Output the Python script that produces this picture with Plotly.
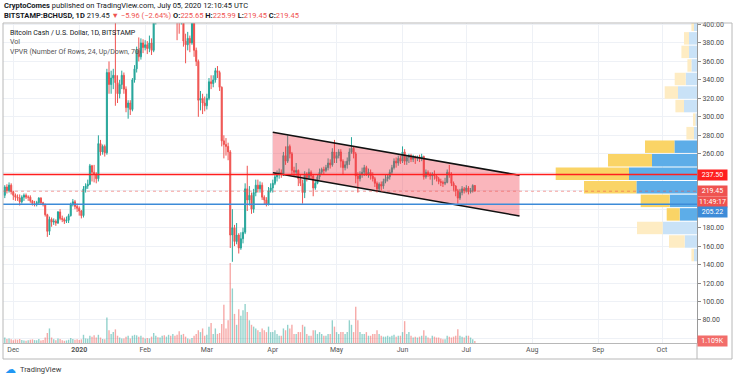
import pandas as pd
import plotly.graph_objects as go

# ---------------- data ----------------
first_open = 215.0

close_nov = [224, 220, 226, 219]
high_nov = [226, 227, 229, 228]
low_nov = [212, 217, 218, 216]
vol_nov = [3.0, 2.2, 2.5, 2.0]

close_dec = [215, 213, 212, 208, 213, 215, 213, 213, 209, 206, 206, 207, 212, 207, 205, 194, 176, 189, 186, 187, 185, 197, 190, 189, 187, 188, 193, 205, 208, 203, 201]
high_dec = [220, 217, 216, 216, 215, 217, 217, 215, 215, 210, 209, 209, 213, 213, 208, 206, 195, 192, 191, 190, 189, 198, 200, 193, 191, 192, 195, 207, 211, 210, 206]
low_dec = [210, 209, 209, 204, 206, 209, 211, 209, 207, 204, 203, 203, 205, 205, 203, 192, 170, 172, 181, 183, 182, 184, 188, 186, 184, 185, 185, 192, 203, 200, 197]
vol_dec = [1.5, 2.0, 1.8, 2.2, 1.6, 1.4, 1.2, 1.5, 1.8, 2.0, 1.6, 1.5, 2.2, 1.4, 1.6, 3.0, 5.5, 8.0, 3.0, 2.0, 1.5, 2.5, 2.2, 1.5, 1.2, 1.4, 1.8, 2.8, 2.2, 1.8, 2.0]

close_jan = [198, 193, 222, 225, 227, 247, 240, 238, 233, 271, 262, 268, 261, 348, 335, 342, 345, 337, 325, 335, 345, 330, 310, 315, 308, 340, 352, 372, 365, 380, 375]
high_jan = [203, 199, 225, 228, 232, 249, 248, 248, 240, 280, 275, 270, 270, 352, 360, 350, 352, 420, 345, 340, 350, 348, 333, 318, 318, 342, 356, 376, 386, 385, 384]
low_jan = [193, 190, 191, 218, 222, 226, 230, 229, 228, 230, 258, 259, 257, 259, 325, 325, 330, 312, 315, 320, 330, 325, 305, 298, 302, 306, 337, 348, 360, 362, 369]
vol_jan = [1.6, 2.0, 4.5, 2.5, 2.4, 4.0, 3.5, 4.2, 3.0, 4.5, 3.0, 2.2, 2.0, 14.0, 7.0, 5.0, 6.0, 7.5, 4.0, 3.0, 2.5, 2.5, 3.5, 4.0, 2.5, 4.0, 4.5, 4.2, 3.5, 4.0, 3.0]

close_feb = [378, 374, 380, 372, 405, 415, 412, 420, 440, 420, 445, 470, 445, 475, 440, 415, 410, 430, 382, 378, 385, 380, 405, 372, 360, 318, 320, 315, 312]
high_feb = [383, 382, 388, 385, 410, 425, 420, 430, 450, 445, 450, 480, 475, 495, 478, 445, 425, 440, 432, 390, 392, 388, 412, 410, 375, 362, 328, 325, 322]
low_feb = [372, 368, 370, 367, 370, 400, 402, 405, 415, 408, 415, 440, 425, 440, 425, 383, 390, 400, 376, 358, 372, 370, 378, 365, 355, 300, 307, 303, 306]
vol_feb = [2.5, 2.8, 2.5, 3.5, 5.5, 4.0, 3.2, 3.0, 4.0, 4.2, 3.5, 4.5, 4.0, 5.0, 4.0, 4.5, 6.5, 4.5, 5.0, 3.5, 2.5, 2.0, 2.8, 4.0, 5.0, 7.0, 6.0, 8.0, 4.0]

close_mar = [320, 338, 336, 340, 350, 348, 332, 274, 270, 268, 262, 172, 180, 165, 172, 158, 168, 175, 222, 210, 215, 200, 218, 226, 222, 226, 213, 210, 205, 220, 223]
high_mar = [325, 342, 345, 345, 353, 355, 350, 333, 280, 277, 272, 264, 200, 183, 185, 174, 175, 180, 228, 247, 225, 218, 222, 232, 232, 230, 229, 215, 213, 224, 228]
low_mar = [308, 318, 330, 332, 337, 342, 328, 268, 255, 258, 253, 158, 143, 160, 162, 152, 156, 163, 173, 198, 204, 195, 196, 214, 218, 218, 210, 205, 203, 204, 218]
vol_mar = [4.5, 9.0, 11.0, 5.0, 8.0, 5.0, 5.5, 10.5, 21.0, 8.0, 12.5, 44.0, 30.0, 16.0, 10.0, 18.5, 15.0, 18.0, 21.5, 17.0, 12.5, 10.0, 9.0, 8.0, 7.0, 6.0, 8.0, 7.0, 6.0, 9.0, 6.0]

close_apr = [228, 235, 237, 240, 238, 258, 252, 268, 260, 242, 240, 242, 233, 228, 218, 238, 234, 240, 236, 223, 228, 235, 240, 243, 242, 245, 250, 248, 262, 255]
high_apr = [232, 240, 242, 244, 243, 262, 268, 280, 270, 262, 246, 250, 243, 237, 232, 241, 240, 244, 242, 238, 232, 237, 244, 245, 246, 248, 255, 254, 266, 275]
low_apr = [218, 226, 230, 233, 234, 236, 248, 250, 255, 238, 236, 236, 225, 225, 206, 212, 230, 232, 232, 214, 221, 227, 232, 237, 238, 240, 242, 244, 246, 250]
vol_apr = [6, 7, 5, 4, 4, 8, 7, 10, 8, 10, 5, 5, 6, 6, 10, 9, 5, 4, 4, 7, 7, 5, 6, 5, 4, 4, 5, 5, 12.5, 9]

close_may = [258, 262, 252, 245, 248, 252, 262, 266, 260, 236, 233, 238, 240, 245, 238, 240, 236, 233, 228, 222, 227, 225, 230, 233, 235, 240, 245, 252, 250, 255, 252]
high_may = [262, 265, 265, 254, 252, 256, 266, 278, 268, 262, 240, 241, 245, 248, 247, 244, 243, 240, 235, 230, 229, 230, 233, 238, 238, 243, 248, 255, 256, 258, 258]
low_may = [250, 255, 245, 237, 242, 244, 248, 260, 255, 228, 218, 230, 234, 236, 236, 234, 232, 230, 224, 218, 220, 220, 222, 228, 230, 232, 237, 243, 245, 247, 249]
vol_may = [6, 5, 6, 6, 5, 6, 12.5, 10, 6, 20, 12.5, 6, 5, 5, 6, 4, 4, 5, 5, 7, 5, 4, 3.5, 3.5, 4, 3.5, 4, 4.5, 3.5, 4, 4]

close_jun = [262, 252, 256, 258, 254, 256, 255, 256, 255, 257, 235, 240, 238, 236, 238, 236, 233, 230, 229, 228, 229, 240, 237, 228, 225, 220, 212, 218, 222, 220]
high_jun = [268, 265, 258, 260, 260, 259, 258, 258, 259, 260, 258, 243, 242, 240, 240, 242, 238, 235, 233, 231, 234, 243, 248, 240, 230, 226, 222, 222, 225, 224]
low_jun = [250, 248, 248, 250, 251, 251, 249, 252, 251, 252, 232, 233, 235, 232, 226, 232, 230, 227, 225, 224, 226, 228, 234, 225, 220, 214, 206, 210, 215, 217]
vol_jun = [6, 12, 5, 6, 4, 3, 3.5, 3, 3.5, 4, 7, 4, 3, 2.5, 4, 3.5, 3, 3, 2.5, 2, 2, 4, 3.5, 3, 3.5, 4, 7.5, 4, 3.5, 3]

close_jul = [223, 219, 220, 225.65, 219.45]
high_jul = [226, 225, 223, 227, 225.99]
low_jul = [218, 216, 217, 218, 219.45]
vol_jul = [4, 4, 3, 2, 1.109]

# Volume profile (24 rows, up / down volume per row, arbitrary units)
vp_low = 143.0
vp_high = 495.0
vp_up = [3, 12.3, 34.3, 17.3, 27.3, 60.6, 68, 45, 22.6, 3, 1.6, 13, 19, 11.3, 5.6, 8, 8, 3, 6, 9, 7, 10, 6, 3]
vp_down = [2.6, 15.7, 25.7, 13, 29, 52.4, 73.3, 44, 29.4, 7.6, 2.4, 8.6, 13.3, 11, 4, 7.6, 5, 2.6, 5, 8, 9, 8, 5, 2]
vp_value_area_rows = [3, 4, 5, 6, 7, 8]

# Drawn channel (date, price anchors)
channel_dates = ["2020-04-01", "2020-07-26"]
channel_upper = [283.3, 236.7]
channel_lower = [239.5, 192.6]

# Horizontal levels
level_resist = 237.50
level_last = 219.45
level_support = 205.22

month_ticks = ["2019-12-01", "2020-01-01", "2020-02-01", "2020-03-01", "2020-04-01", "2020-05-01",
               "2020-06-01", "2020-07-01", "2020-08-01", "2020-09-01", "2020-10-01"]
month_labels = ["Dec", "<b>2020</b>", "Feb", "Mar", "Apr", "May", "Jun", "Jul", "Aug", "Sep", "Oct"]
price_ticks = list(range(60, 401, 20))

# ---------------- build ----------------
dates = pd.date_range("2019-11-27", "2020-07-05", freq="D")
closes = close_nov + close_dec + close_jan + close_feb + close_mar + close_apr + close_may + close_jun + close_jul
highs = high_nov + high_dec + high_jan + high_feb + high_mar + high_apr + high_may + high_jun + high_jul
lows = low_nov + low_dec + low_jan + low_feb + low_mar + low_apr + low_may + low_jun + low_jul
vols = vol_nov + vol_dec + vol_jan + vol_feb + vol_mar + vol_apr + vol_may + vol_jun + vol_jul
opens = [first_open] + closes[:-1]

UP = "#26a69a"
DN = "#ef5350"
vol_colors = ["rgba(38,166,154,0.5)" if c >= o else "rgba(239,83,80,0.5)" for o, c in zip(opens, closes)]

FONT = "Roboto, Arial, sans-serif"
W, H = 736, 379
PL, PR, PT, PB = 3, 697, 23, 343


def px_x(px):
    return (px - PL) / (PR - PL)


def px_y(py):
    return (PB - py) / (PB - PT)


fig = go.Figure()

# volume (base axis, drawn first = behind)
fig.add_trace(go.Bar(x=dates, y=vols, xaxis="x", yaxis="y", marker=dict(color=vol_colors, line=dict(width=0)),
                     width=0.65 * 86400000, hoverinfo="skip"))

# candles
fig.add_trace(go.Candlestick(x=dates, open=opens, high=highs, low=lows, close=closes, xaxis="x", yaxis="y2",
                             increasing=dict(line=dict(color=UP, width=1), fillcolor=UP),
                             decreasing=dict(line=dict(color=DN, width=1), fillcolor=DN),
                             whiskerwidth=0, hoverinfo="skip"))

# channel fill
fig.add_trace(go.Scatter(x=[channel_dates[0], channel_dates[1], channel_dates[1], channel_dates[0]],
                         y=[channel_upper[0], channel_upper[1], channel_lower[1], channel_lower[0]],
                         xaxis="x", yaxis="y2", fill="toself", fillcolor="rgba(242,54,69,0.36)",
                         mode="lines", line=dict(width=0), hoverinfo="skip"))
fig.add_trace(go.Scatter(x=channel_dates, y=channel_upper, xaxis="x", yaxis="y2", mode="lines",
                         line=dict(color="#111111", width=1.5), hoverinfo="skip"))
fig.add_trace(go.Scatter(x=channel_dates, y=channel_lower, xaxis="x", yaxis="y2", mode="lines",
                         line=dict(color="#111111", width=1.5), hoverinfo="skip"))

# volume profile
step = (vp_high - vp_low) / len(vp_up)
centers = [vp_low + (k + 0.5) * step for k in range(len(vp_up))]
up_cols = ["#5dade8" if k in vp_value_area_rows else "#c9e2f7" for k in range(len(vp_up))]
dn_cols = ["#fad466" if k in vp_value_area_rows else "#feecc3" for k in range(len(vp_up))]
fig.add_trace(go.Bar(y=centers, x=vp_up, orientation="h", xaxis="x2", yaxis="y3", width=step * 0.92,
                     marker=dict(color=up_cols, line=dict(width=0)), hoverinfo="skip"))
fig.add_trace(go.Bar(y=centers, x=vp_down, base=vp_up, orientation="h", xaxis="x2", yaxis="y3", width=step * 0.92,
                     marker=dict(color=dn_cols, line=dict(width=0)), hoverinfo="skip"))

y_lo = 400 - (PB - 24.5) / 0.9234
y_hi = 400 + (24.5 - PT) / 0.9234
vol_top = (PB - PT) * 0.55

price_text = ["" if (v in (60, 200, 220, 240)) else f"{v:.2f}" for v in price_ticks]

GRID = "#eef1f6"
fig.update_layout(
    width=W, height=H, autosize=False,
    margin=dict(l=PL, r=W - PR, t=PT, b=H - PB, pad=0),
    paper_bgcolor="white", plot_bgcolor="white",
    showlegend=False, barmode="overlay",
    font=dict(family=FONT, size=7, color="#4a4a4a"),
    xaxis=dict(type="date", range=["2019-11-26 03:46", "2020-10-17 10:55"], tickvals=month_ticks,
               ticktext=month_labels, showgrid=True, gridcolor=GRID, gridwidth=1, ticks="",
               tickfont=dict(size=7, color="#555555"), showline=True, linecolor="#b8b8b8",
               rangeslider=dict(visible=False), fixedrange=True),
    yaxis=dict(range=[0, vol_top], visible=False, fixedrange=True),
    yaxis2=dict(overlaying="y", side="right", anchor="x", range=[y_lo, y_hi], tickvals=price_ticks,
                ticktext=price_text, showgrid=True, gridcolor=GRID, ticks="outside", ticklen=3,
                tickcolor="#8a8a8a", tickfont=dict(size=7, color="#4a4a4a"), showline=True,
                linecolor="#9a9a9a", zeroline=False, fixedrange=True),
    xaxis2=dict(overlaying="x", range=[PR - PL, 0], visible=False, fixedrange=True),
    yaxis3=dict(overlaying="y", range=[y_lo, y_hi], visible=False, fixedrange=True),
)

# horizontal levels
fig.add_shape(type="line", xref="paper", yref="y2", x0=0, x1=1, y0=level_resist, y1=level_resist,
              line=dict(color="#ff1f1f", width=1.5), layer="above")
fig.add_shape(type="line", xref="paper", yref="y2", x0=0, x1=1, y0=level_support, y1=level_support,
              line=dict(color="#3d8bd8", width=1.5), layer="above")
fig.add_shape(type="line", xref="paper", yref="y2", x0=0, x1=1, y0=level_last, y1=level_last,
              line=dict(color="rgba(239,83,80,0.55)", width=1, dash="dot"), layer="above")

# frame
BORDER = "#b8b8b8"
xr = px_x(732)
yb = px_y(359)
for (x0, y0, x1, y1) in [(0, 1, xr, 1), (0, yb, xr, yb), (0, yb, 0, 1), (xr, yb, xr, 1), (1, yb, 1, 0)]:
    fig.add_shape(type="line", xref="paper", yref="paper", x0=x0, y0=y0, x1=x1, y1=y1,
                  line=dict(color=BORDER, width=1), layer="above")

# price labels on axis
def axis_label(text, y, color, yshift=0, yref="y2"):
    fig.add_annotation(text=text, xref="paper", yref=yref, x=1, y=y, xanchor="left", yanchor="middle",
                       showarrow=False, bgcolor=color, font=dict(color="white", size=7, family=FONT),
                       width=27, height=8, borderpad=1, align="center", yshift=yshift)


axis_label(f"{level_resist:.2f}", level_resist, "#ff1f1f")
axis_label(f"{level_last:.2f}", level_last, "#ef5350", yshift=0)
axis_label("11:49:17", level_last, "#ef5350", yshift=-11)
axis_label(f"{level_support:.2f}", level_support, "#3d8bd8", yshift=-7.5)
axis_label(f"{vols[-1]:.3f}K", px_y(341), "#f26d6a", yref="paper")

# header
fig.add_annotation(text="<b>CryptoComes</b> published on TradingView.com, July 05, 2020 12:10:45 UTC",
                   xref="paper", yref="paper", x=px_x(2), y=px_y(6), xanchor="left", yanchor="middle",
                   showarrow=False, font=dict(size=7.5, color="#131722", family=FONT))
red = "#ef5350"
hdr2 = (f"<b>BITSTAMP:BCHUSD, 1D</b> 219.45 <span style='color:{red}'>▼ −5.96 (−2.64%)</span> "
        f"<b>O:</b><span style='color:{red}'>225.65</span> <b>H:</b><span style='color:{red}'>225.99</span> "
        f"<b>L:</b><span style='color:{red}'>219.45</span> <b>C:</b><span style='color:{red}'>219.45</span>")
fig.add_annotation(text=hdr2, xref="paper", yref="paper", x=px_x(2), y=px_y(15.7), xanchor="left",
                   yanchor="middle", showarrow=False, font=dict(size=7.5, color="#131722", family=FONT))

# pane legend
legend_lines = [("Bitcoin Cash / U.S. Dollar, 1D, BITSTAMP", 33.3, "#131722"),
                ("Vol", 42.3, "#555555"),
                ("VPVR (Number Of Rows, 24, Up/Down, 70)", 52.3, "#555555")]
for txt, py, col in legend_lines:
    fig.add_annotation(text=txt, xref="paper", yref="paper", x=px_x(8), y=px_y(py), xanchor="left",
                       yanchor="middle", showarrow=False, font=dict(size=7, color=col, family=FONT))

# footer
fig.add_annotation(text="☁", xref="paper", yref="paper", x=px_x(3), y=px_y(369), xanchor="left",
                   yanchor="middle", showarrow=False, font=dict(size=11, color="#2196f3", family="DejaVu Sans"))
fig.add_annotation(text="TradingView", xref="paper", yref="paper", x=px_x(18), y=px_y(369), xanchor="left",
                   yanchor="middle", showarrow=False, font=dict(size=7.5, color="#3a3a3a", family=FONT))

fig.write_html("out.html", config={"displayModeBar": False, "staticPlot": True},
               post_script="document.body.style.margin='0';document.body.style.overflow='hidden';")
